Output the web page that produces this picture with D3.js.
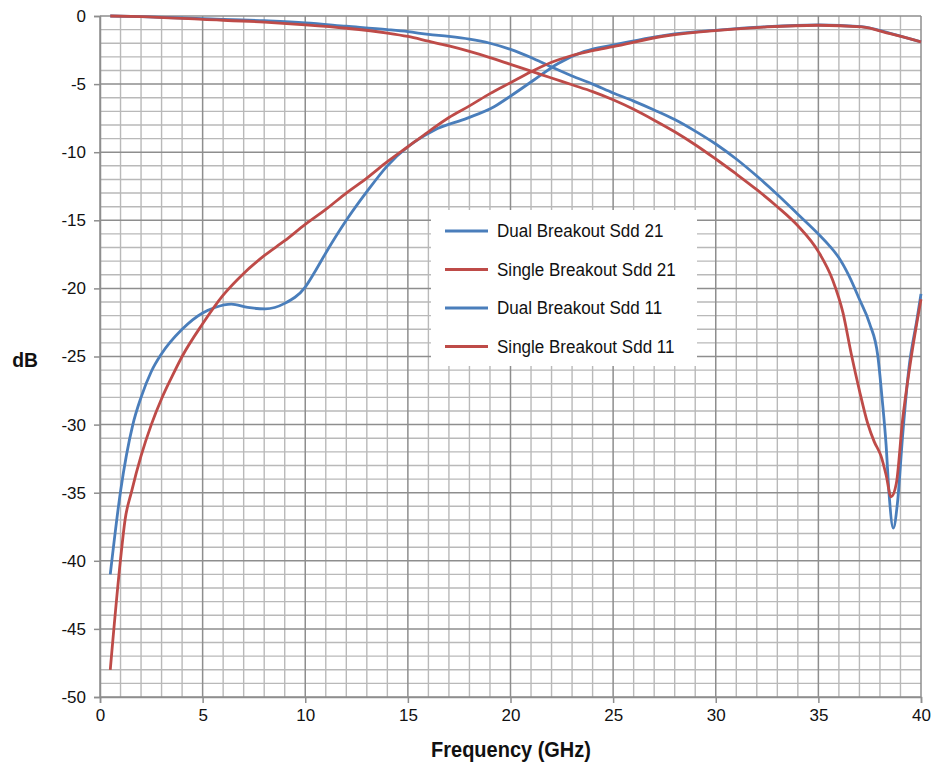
<!DOCTYPE html>
<html>
<head>
<meta charset="utf-8">
<script src="https://cdn.jsdelivr.net/npm/d3@7"></script>
<style>
  html, body { margin: 0; padding: 0; background: #fff; }
  svg { display: block; }
</style>
</head>
<body>
<svg id="chart" width="938" height="768"></svg>
<script>
// ---------- data ----------
const xTicks = [0, 5, 10, 15, 20, 25, 30, 35, 40];
const yTicks = [0, -5, -10, -15, -20, -25, -30, -35, -40, -45, -50];

const dualSdd21Freq = [0.5, 2, 5, 8, 10, 12, 14, 15, 16, 17, 18, 19, 20, 21, 22, 23, 24, 25, 26, 27, 28, 29, 30, 31, 32, 33, 34, 35, 35.5, 36, 36.5, 37, 37.5, 37.9, 38.1, 38.3, 38.45, 38.65, 38.85, 39.1, 39.4, 39.8, 40];
const dualSdd21 = [0, -0.05, -0.2, -0.35, -0.5, -0.75, -1.0, -1.15, -1.35, -1.5, -1.7, -2.0, -2.45, -3.05, -3.75, -4.4, -5.0, -5.65, -6.25, -6.9, -7.6, -8.45, -9.4, -10.5, -11.75, -13.1, -14.55, -16.0, -16.8, -17.75, -19.1, -20.8, -22.6, -25, -28, -31.5, -35.2, -37.6, -35.8, -30.9, -26, -22.3, -20.4];

const singleSdd21Freq = [0.5, 2, 5, 8, 10, 12, 14, 15, 16, 17, 18, 19, 20, 21, 22, 23, 24, 25, 26, 27, 28, 29, 30, 31, 32, 33, 34, 35, 35.7, 36.2, 36.6, 37, 37.4, 37.72, 38.05, 38.3, 38.54, 38.8, 39.1, 39.5, 40];
const singleSdd21 = [0, -0.05, -0.25, -0.45, -0.65, -0.9, -1.25, -1.5, -1.85, -2.2, -2.6, -3.05, -3.55, -4.05, -4.55, -5.05, -5.55, -6.15, -6.85, -7.65, -8.5, -9.45, -10.5, -11.6, -12.75, -14.0, -15.4, -17.3, -19.4, -21.8, -24.8, -27.5, -29.9, -31.25, -32.3, -33.7, -35.3, -34.3, -29.7, -25.3, -20.8];

const dualSdd11Freq = [0.5, 1.0, 1.6, 2, 2.5, 3, 4, 5, 5.6, 6.4, 7.2, 8.05, 9, 10, 10.5, 11, 12, 13, 14, 15, 16.26, 17.9, 19.2, 20.08, 21.14, 22.3, 23.6, 25.1, 27.6, 30.1, 32.5, 35, 37.1, 38.5, 40];
const dualSdd11 = [-41, -34.9, -30, -28.0, -26.1, -24.8, -23.0, -21.8, -21.4, -21.15, -21.4, -21.5, -21.1, -19.9, -18.7, -17.4, -15.0, -12.9, -11.0, -9.6, -8.4, -7.5, -6.66, -5.8, -4.7, -3.5, -2.6, -2.1, -1.4, -1.03, -0.78, -0.66, -0.78, -1.27, -1.9];

const singleSdd11Freq = [0.5, 1.0, 1.22, 1.54, 2, 2.5, 3, 3.5, 4, 5, 6, 7, 8, 9, 10, 11, 12, 13, 14, 15, 16, 17, 18, 19, 20, 21, 22, 23, 24, 25, 27.6, 30.1, 32.5, 35, 37.1, 38.5, 40];
const singleSdd11 = [-48, -39.9, -37, -34.9, -32.3, -30.0, -28.1, -26.5, -25.0, -22.6, -20.5, -18.9, -17.6, -16.5, -15.3, -14.2, -13.0, -11.9, -10.7, -9.6, -8.5, -7.45, -6.6, -5.7, -4.9, -4.1, -3.4, -2.9, -2.55, -2.25, -1.45, -1.05, -0.8, -0.68, -0.8, -1.3, -1.9];

const seriesNames = ["Dual Breakout Sdd 21", "Single Breakout Sdd 21", "Dual Breakout Sdd 11", "Single Breakout Sdd 11"];
const seriesColors = ["#4a7ebb", "#be4b48", "#4a7ebb", "#be4b48"];

const FONT = '"Liberation Sans", Arial, sans-serif';

// ---------- layout ----------
const svg = d3.select("#chart");
const x = d3.scaleLinear().domain([0, 40]).range([100, 921]);
const y = d3.scaleLinear().domain([-50, 0]).range([697, 16]);

const gGrid = svg.append("g");
gGrid.selectAll("line.vminor").data(d3.range(0, 41, 1).filter(v => v % 5 !== 0)).join("line")
  .attr("x1", d => x(d)).attr("x2", d => x(d)).attr("y1", y(0)).attr("y2", y(-50))
  .attr("stroke", "#b9b9b9").attr("stroke-width", 1.4);
gGrid.selectAll("line.hminor").data(d3.range(-50, 1, 1).filter(v => v % 5 !== 0)).join("line")
  .attr("y1", d => y(d)).attr("y2", d => y(d)).attr("x1", x(0)).attr("x2", x(40))
  .attr("stroke", "#b9b9b9").attr("stroke-width", 1.4);
gGrid.selectAll("line.vmajor").data(xTicks).join("line")
  .attr("x1", d => x(d)).attr("x2", d => x(d)).attr("y1", y(0)).attr("y2", y(-50))
  .attr("stroke", "#8e8e8e").attr("stroke-width", 1.5);
gGrid.selectAll("line.hmajor").data(yTicks).join("line")
  .attr("y1", d => y(d)).attr("y2", d => y(d)).attr("x1", x(0)).attr("x2", x(40))
  .attr("stroke", "#8e8e8e").attr("stroke-width", 1.5);

// axes
const fmt = d => String(d);
const yAxis = d3.axisLeft(y).tickValues(yTicks).tickSize(6).tickPadding(7).tickFormat(fmt);
const xAxis = d3.axisBottom(x).tickValues(xTicks).tickSize(6).tickPadding(6).tickFormat(fmt);
const gy = svg.append("g").attr("transform", `translate(${x(0)},0)`).call(yAxis);
const gx = svg.append("g").attr("transform", `translate(0,${y(-50)})`).call(xAxis);
[gy, gx].forEach(g => {
  g.select(".domain").attr("stroke", "#8e8e8e").attr("stroke-width", 1.5);
  g.selectAll(".tick line").attr("stroke", "#8e8e8e").attr("stroke-width", 1.5);
  g.selectAll(".tick text").attr("fill", "#111").style("font-family", FONT).style("font-size", "17px");
});
gy.selectAll(".tick text").attr("x", -14);

// axis titles (slightly condensed to mimic the original typeface)
svg.append("text").attr("transform", "translate(25,367) scale(0.92,1)").attr("text-anchor", "middle")
  .style("font-family", FONT).style("font-weight", "bold").style("font-size", "21px").attr("fill", "#111").text("dB");
svg.append("text").attr("transform", "translate(511,757) scale(0.93,1)").attr("text-anchor", "middle")
  .style("font-family", FONT).style("font-weight", "bold").style("font-size", "21.5px").attr("fill", "#111").text("Frequency (GHz)");

// lines
const line = d3.line().x(d => x(d[0])).y(d => y(d[1])).curve(d3.curveMonotoneX);
const series = [
  { f: dualSdd21Freq, v: dualSdd21, c: seriesColors[0] },
  { f: dualSdd11Freq, v: dualSdd11, c: seriesColors[2] },
  { f: singleSdd21Freq, v: singleSdd21, c: seriesColors[1] },
  { f: singleSdd11Freq, v: singleSdd11, c: seriesColors[3] }
];
series.forEach(s => {
  svg.append("path").datum(s.f.map((f, i) => [f, s.v[i]]))
    .attr("d", line).attr("fill", "none").attr("stroke", s.c)
    .attr("stroke-width", 2.8).attr("stroke-linejoin", "round");
});

// legend
const lg = svg.append("g");
lg.append("rect").attr("x", 431).attr("y", 210).attr("width", 266).attr("height", 156).attr("fill", "#fff");
const rows = lg.selectAll("g.row").data(seriesNames).join("g")
  .attr("transform", (d, i) => `translate(0,${231 + i * 38.5})`);
rows.append("line").attr("x1", 445).attr("x2", 488).attr("y1", 0).attr("y2", 0)
  .attr("stroke", (d, i) => seriesColors[i]).attr("stroke-width", 3);
rows.append("text").attr("transform", "translate(497,0) scale(0.92,1)").attr("dy", "0.35em")
  .style("font-family", FONT).style("font-size", "18.5px").attr("fill", "#111").text(d => d);
</script>
</body>
</html>
